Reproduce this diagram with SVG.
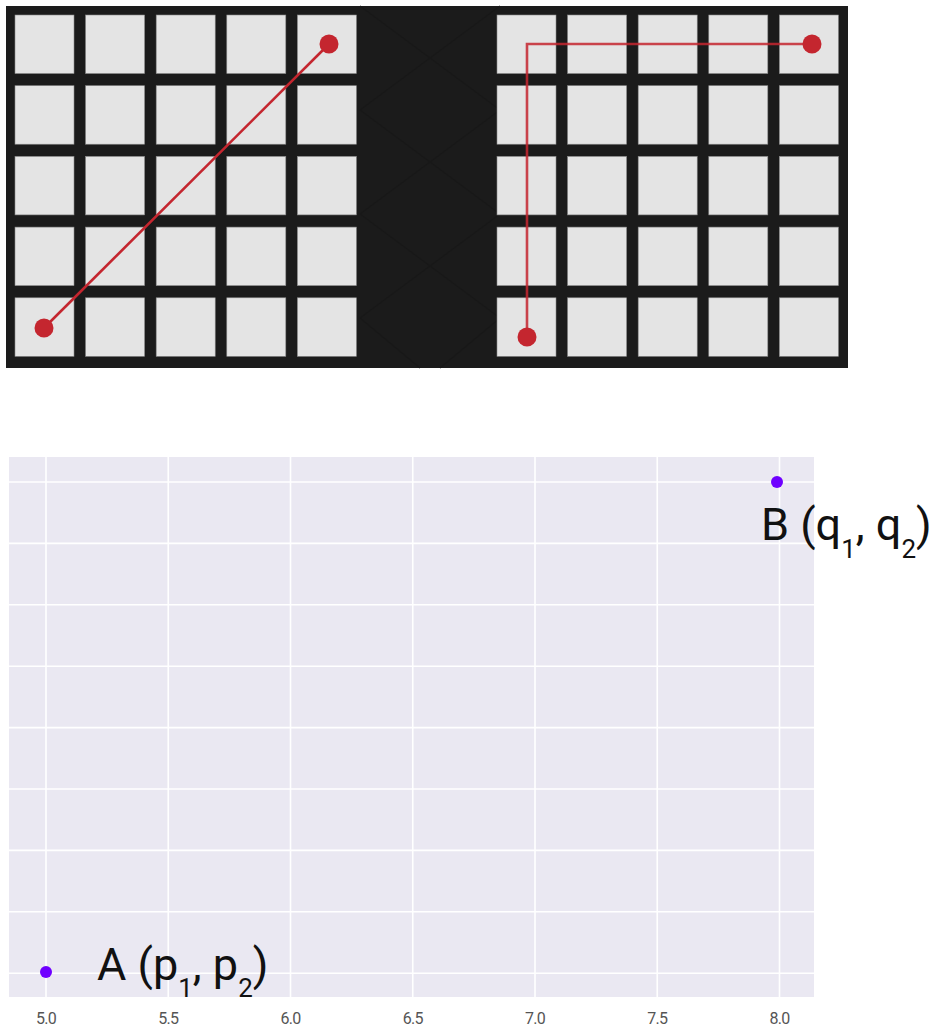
<svg xmlns="http://www.w3.org/2000/svg" width="932" height="1028" viewBox="0 0 932 1028">
<defs>
<style>
.cell{fill:#e4e4e4;stroke:#8a8a8a;stroke-width:0.6}
.path{fill:none;stroke:#c4262f;stroke-width:2.6}
.dot{fill:#c4262f}
.grid{stroke:#ffffff;stroke-width:1.6}
.pt{fill:#6f00ff}
.lbl{font-family:Roboto,"Liberation Sans",sans-serif;font-size:45px;fill:#111}
.sub{font-size:26px}
.tick{font-family:Roboto,"Liberation Sans",sans-serif;font-size:16px;fill:#555;text-anchor:middle;letter-spacing:-0.8px}
.tex{stroke:#181818;stroke-width:1.2;fill:none}
</style>
</defs>
<rect width="932" height="1028" fill="#ffffff"/>
<g id="board">
<rect x="6" y="6" width="842" height="362" fill="#1b1b1b"/>
<path class="tex" d="M360 6 L500 110 M360 110 L500 6 M360 110 L500 214 M360 214 L500 110 M360 214 L500 318 M360 318 L500 214 M360 318 L420 368 M440 368 L500 318"/>
</g>
<g id="grid-left">
<rect class="cell" x="15" y="15" width="59" height="58.5"/><rect class="cell" x="85.6" y="15" width="59" height="58.5"/><rect class="cell" x="156.2" y="15" width="59" height="58.5"/><rect class="cell" x="226.8" y="15" width="59" height="58.5"/><rect class="cell" x="297.4" y="15" width="59" height="58.5"/>
<rect class="cell" x="15" y="85.7" width="59" height="58.5"/><rect class="cell" x="85.6" y="85.7" width="59" height="58.5"/><rect class="cell" x="156.2" y="85.7" width="59" height="58.5"/><rect class="cell" x="226.8" y="85.7" width="59" height="58.5"/><rect class="cell" x="297.4" y="85.7" width="59" height="58.5"/>
<rect class="cell" x="15" y="156.4" width="59" height="58.5"/><rect class="cell" x="85.6" y="156.4" width="59" height="58.5"/><rect class="cell" x="156.2" y="156.4" width="59" height="58.5"/><rect class="cell" x="226.8" y="156.4" width="59" height="58.5"/><rect class="cell" x="297.4" y="156.4" width="59" height="58.5"/>
<rect class="cell" x="15" y="227.1" width="59" height="58.5"/><rect class="cell" x="85.6" y="227.1" width="59" height="58.5"/><rect class="cell" x="156.2" y="227.1" width="59" height="58.5"/><rect class="cell" x="226.8" y="227.1" width="59" height="58.5"/><rect class="cell" x="297.4" y="227.1" width="59" height="58.5"/>
<rect class="cell" x="15" y="297.8" width="59" height="58.5"/><rect class="cell" x="85.6" y="297.8" width="59" height="58.5"/><rect class="cell" x="156.2" y="297.8" width="59" height="58.5"/><rect class="cell" x="226.8" y="297.8" width="59" height="58.5"/><rect class="cell" x="297.4" y="297.8" width="59" height="58.5"/>
</g>
<g id="grid-right">
<rect class="cell" x="497" y="15" width="59" height="58.5"/><rect class="cell" x="567.6" y="15" width="59" height="58.5"/><rect class="cell" x="638.2" y="15" width="59" height="58.5"/><rect class="cell" x="708.8" y="15" width="59" height="58.5"/><rect class="cell" x="779.4" y="15" width="59" height="58.5"/>
<rect class="cell" x="497" y="85.7" width="59" height="58.5"/><rect class="cell" x="567.6" y="85.7" width="59" height="58.5"/><rect class="cell" x="638.2" y="85.7" width="59" height="58.5"/><rect class="cell" x="708.8" y="85.7" width="59" height="58.5"/><rect class="cell" x="779.4" y="85.7" width="59" height="58.5"/>
<rect class="cell" x="497" y="156.4" width="59" height="58.5"/><rect class="cell" x="567.6" y="156.4" width="59" height="58.5"/><rect class="cell" x="638.2" y="156.4" width="59" height="58.5"/><rect class="cell" x="708.8" y="156.4" width="59" height="58.5"/><rect class="cell" x="779.4" y="156.4" width="59" height="58.5"/>
<rect class="cell" x="497" y="227.1" width="59" height="58.5"/><rect class="cell" x="567.6" y="227.1" width="59" height="58.5"/><rect class="cell" x="638.2" y="227.1" width="59" height="58.5"/><rect class="cell" x="708.8" y="227.1" width="59" height="58.5"/><rect class="cell" x="779.4" y="227.1" width="59" height="58.5"/>
<rect class="cell" x="497" y="297.8" width="59" height="58.5"/><rect class="cell" x="567.6" y="297.8" width="59" height="58.5"/><rect class="cell" x="638.2" y="297.8" width="59" height="58.5"/><rect class="cell" x="708.8" y="297.8" width="59" height="58.5"/><rect class="cell" x="779.4" y="297.8" width="59" height="58.5"/>
</g>
<g id="connectors">
<line class="path" x1="44" y1="328" x2="329" y2="44"/>
<polyline class="path" points="527,337 527,44 812,44" stroke-opacity="0.85"/>
</g>
<g id="endpoints">
<circle class="dot" cx="44" cy="328" r="9.5"/>
<circle class="dot" cx="329" cy="44" r="9.5"/>
<circle class="dot" cx="527" cy="337" r="9.5"/>
<circle class="dot" cx="812" cy="44" r="9.5"/>
</g>
<g id="plot">
<rect x="9" y="457" width="805" height="540" fill="#eae8f2"/>
<g class="grid">
<line x1="46" y1="457" x2="46" y2="997"/><line x1="168.25" y1="457" x2="168.25" y2="997"/><line x1="290.5" y1="457" x2="290.5" y2="997"/><line x1="412.75" y1="457" x2="412.75" y2="997"/><line x1="535" y1="457" x2="535" y2="997"/><line x1="657.25" y1="457" x2="657.25" y2="997"/><line x1="779.5" y1="457" x2="779.5" y2="997"/>
<line x1="9" y1="482" x2="814" y2="482"/><line x1="9" y1="543.4" x2="814" y2="543.4"/><line x1="9" y1="604.8" x2="814" y2="604.8"/><line x1="9" y1="666.2" x2="814" y2="666.2"/><line x1="9" y1="727.6" x2="814" y2="727.6"/><line x1="9" y1="789" x2="814" y2="789"/><line x1="9" y1="850.4" x2="814" y2="850.4"/><line x1="9" y1="911.8" x2="814" y2="911.8"/><line x1="9" y1="973.2" x2="814" y2="973.2"/>
</g>
<text class="tick" x="46" y="1024">5.0</text><text class="tick" x="168.25" y="1024">5.5</text><text class="tick" x="290.5" y="1024">6.0</text><text class="tick" x="412.75" y="1024">6.5</text><text class="tick" x="535" y="1024">7.0</text><text class="tick" x="657.25" y="1024">7.5</text><text class="tick" x="779.5" y="1024">8.0</text>
</g>
<g id="pointA">
<circle class="pt" cx="46" cy="972" r="6"/>
<text class="lbl" x="97" y="980">A (p<tspan class="sub" dy="17">1</tspan><tspan dy="-17">, p</tspan><tspan class="sub" dy="17">2</tspan><tspan dy="-17">)</tspan></text>
</g>
<g id="pointB">
<circle class="pt" cx="777" cy="482" r="6"/>
<text class="lbl" x="761" y="540">B (q<tspan class="sub" dy="18">1</tspan><tspan dy="-18">, q</tspan><tspan class="sub" dy="18">2</tspan><tspan dy="-18">)</tspan></text>
</g>
</svg>
